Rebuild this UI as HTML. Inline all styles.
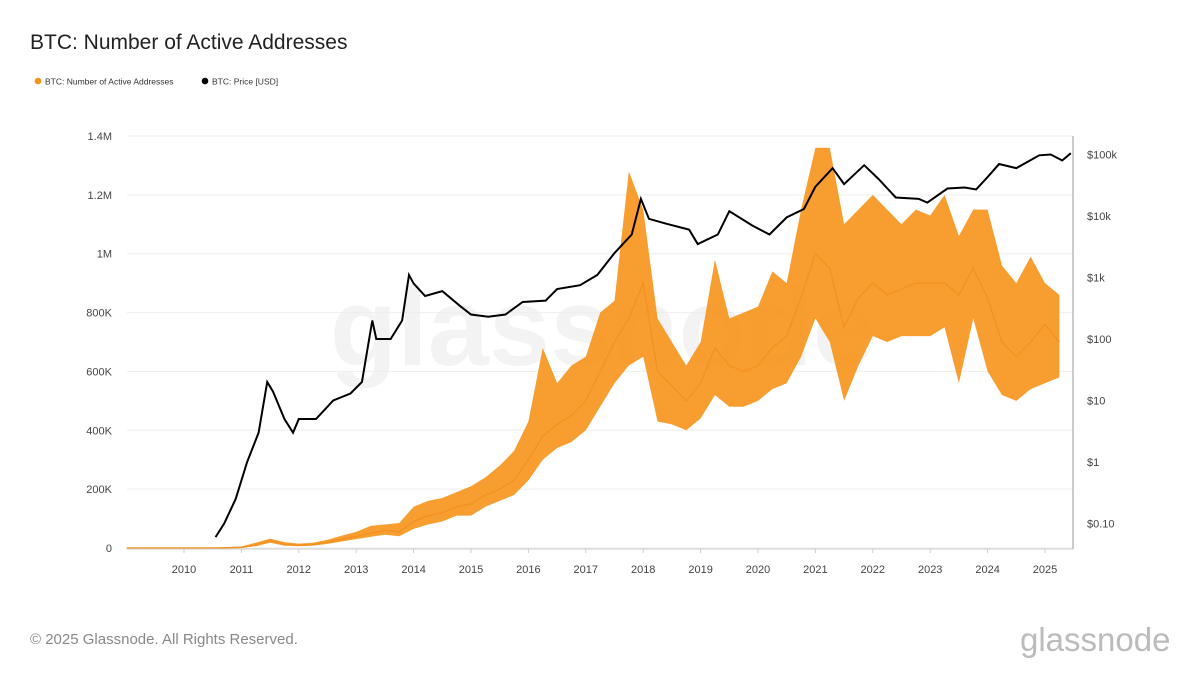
<!DOCTYPE html>
<html><head><meta charset="utf-8"><style>
body{margin:0;background:#fff;font-family:"Liberation Sans",sans-serif;}
#wrap{position:relative;width:1200px;height:675px;overflow:hidden;background:#fff}
</style></head><body>
<div id="wrap">
<svg id="svg" width="1200" height="675" xmlns="http://www.w3.org/2000/svg">
<text x="30" y="49" font-size="21" fill="#222">BTC: Number of Active Addresses</text>
<g><circle cx="38" cy="81" r="3.3" fill="#f7931a"/><text x="45" y="84.5" font-size="8.5" fill="#333">BTC: Number of Active Addresses</text></g>
<g><circle cx="205" cy="81" r="3.3" fill="#000"/><text x="212" y="84.5" font-size="8.5" fill="#333">BTC: Price [USD]</text></g>
<text x="330" y="365" font-size="110" fill="#000" opacity="0.045" font-weight="bold">glassnode</text>
<g id="grid"></g><g id="marks"></g><g id="axes"></g>
<text x="30" y="644" font-size="15" fill="#888">© 2025 Glassnode. All Rights Reserved.</text>
<text x="1020" y="651" font-size="33" fill="#bbb">glassnode</text>
</svg></div>
<script>
const addrDates=[];for(let i=0;i<66;i++)addrDates.push(2009+i*0.25);
const addrMean=[0,0,0,0, 0,0,0,1, 2,10,25,12, 10,12,20,30, 40,50,60,55, 90,110,120,140, 150,180,200,230, 300,380,420,450, 500,600,700,780, 900,600,550,500, 560,680,620,600, 620,680,720,850, 1000,950,750,850, 900,860,880,900, 900,900,860,950, 850,700,650,700, 760,700];
const addrHigh=[0,0,0,0, 0,0,1,3, 5,18,32,20, 15,18,28,42, 55,75,80,85, 140,160,170,190, 210,240,280,330, 430,680,560,620, 650,800,840,1280, 1150,780,700,620, 700,980,780,800, 820,940,900,1150, 1360,1360,1100,1150, 1200,1150,1100,1150, 1130,1200,1060,1150, 1150,960,900,990, 900,860];
const addrLow=[0,0,0,0, 0,0,0,0, 1,6,18,8, 6,8,14,22, 30,38,45,40, 65,80,90,110, 110,140,160,180, 230,300,340,360, 400,480,560,620, 650,430,420,400, 440,520,480,480, 500,540,560,650, 780,700,500,620, 720,700,720,720, 720,750,560,780, 600,520,500,540, 560,580];
const priceDates=[2010.55,2010.7,2010.9,2011.1,2011.3,2011.45,2011.55,2011.75,2011.9,2012.0,2012.3,2012.6,2012.9,2013.1,2013.28,2013.35,2013.6,2013.8,2013.92,2014.0,2014.2,2014.5,2014.8,2015.0,2015.3,2015.6,2015.9,2016.3,2016.5,2016.9,2017.2,2017.5,2017.8,2017.96,2018.1,2018.4,2018.8,2018.95,2019.3,2019.5,2019.9,2020.2,2020.5,2020.8,2021.0,2021.3,2021.5,2021.85,2022.1,2022.4,2022.8,2022.95,2023.3,2023.6,2023.8,2024.0,2024.2,2024.5,2024.9,2025.1,2025.3,2025.45];
const priceValues=[0.06,0.1,0.25,1,3,20,14,5,3,5,5,10,13,20,200,100,100,200,1100,800,500,600,350,250,230,250,400,420,650,750,1100,2500,5000,19000,9000,7500,6000,3500,5000,12000,7000,5000,9500,13000,30000,60000,33000,67000,40000,20000,19000,16500,28000,29000,27000,43000,70000,60000,97000,100000,80000,105000];
const leftTicks=[0,200,400,600,800,1000,1200,1400];
const leftLabels=["0","200K","400K","600K","800K","1M","1.2M","1.4M"];
const rightTicks=[0.1,1,10,100,1000,10000,100000];
const rightLabels=["$0.10","$1","$10","$100","$1k","$10k","$100k"];
const yearTicks=[2010,2011,2012,2013,2014,2015,2016,2017,2018,2019,2020,2021,2022,2023,2024,2025];
const X0=127,X1=1073;
const xs=d=>184+(d-2010)*57.4;
const yL=v=>548-v*(412/1400);
const yR=v=>462-Math.log10(v)*61.5;
const NS="http://www.w3.org/2000/svg";
function mk(t,a,p){const e=document.createElementNS(NS,t);for(const k in a)e.setAttribute(k,a[k]);p.appendChild(e);return e;}
const grid=document.getElementById('grid'),marks=document.getElementById('marks'),axes=document.getElementById('axes');
leftTicks.forEach((v,i)=>{
 const l=mk('line',{x1:X0,x2:X1,y1:yL(v),y2:yL(v),stroke:'#eee'},grid);
 
 
 const t=mk('text',{x:112,y:yL(v)+4,'font-size':11,fill:'#444','text-anchor':'end'},axes);t.textContent=leftLabels[i];
 
 
});
rightTicks.forEach((v,i)=>{
 const t=mk('text',{x:1087,y:yR(v)+4,'font-size':11,fill:'#444'},axes);t.textContent=rightLabels[i];
 
 
});
yearTicks.forEach(y=>{
 const t=mk('text',{x:xs(y),y:573,'font-size':11,fill:'#444','text-anchor':'middle'},axes);t.textContent=y;
 
 
 mk('line',{x1:xs(y),x2:xs(y),y1:549,y2:553,stroke:'#ccc'},axes);
});
const ax=mk('line',{x1:1073,x2:1073,y1:136,y2:549,stroke:'#999'},axes);


const ax2=mk('line',{x1:X0,x2:X1,y1:549,y2:549,stroke:'#ccc'},axes);


let band='';addrDates.forEach((d,i)=>band+=(i?'L':'M')+Math.min(xs(d),1071)+','+yL(addrHigh[i]));
for(let i=addrDates.length-1;i>=0;i--)band+='L'+Math.min(xs(addrDates[i]),1071)+','+yL(addrLow[i]);
const b=mk('path',{d:band+'Z',fill:'#f7931a',opacity:0.9},marks);


const ml=mk('path',{d:addrDates.map((d,i)=>(i?'L':'M')+Math.min(xs(d),1071)+','+yL(addrMean[i])).join(''),fill:'none',stroke:'#f29222','stroke-width':1.5},marks);


const pl=mk('path',{d:priceDates.map((d,i)=>(i?'L':'M')+xs(d)+','+yR(priceValues[i])).join(''),fill:'none',stroke:'#000','stroke-width':2},marks);


</script>
</body></html>
